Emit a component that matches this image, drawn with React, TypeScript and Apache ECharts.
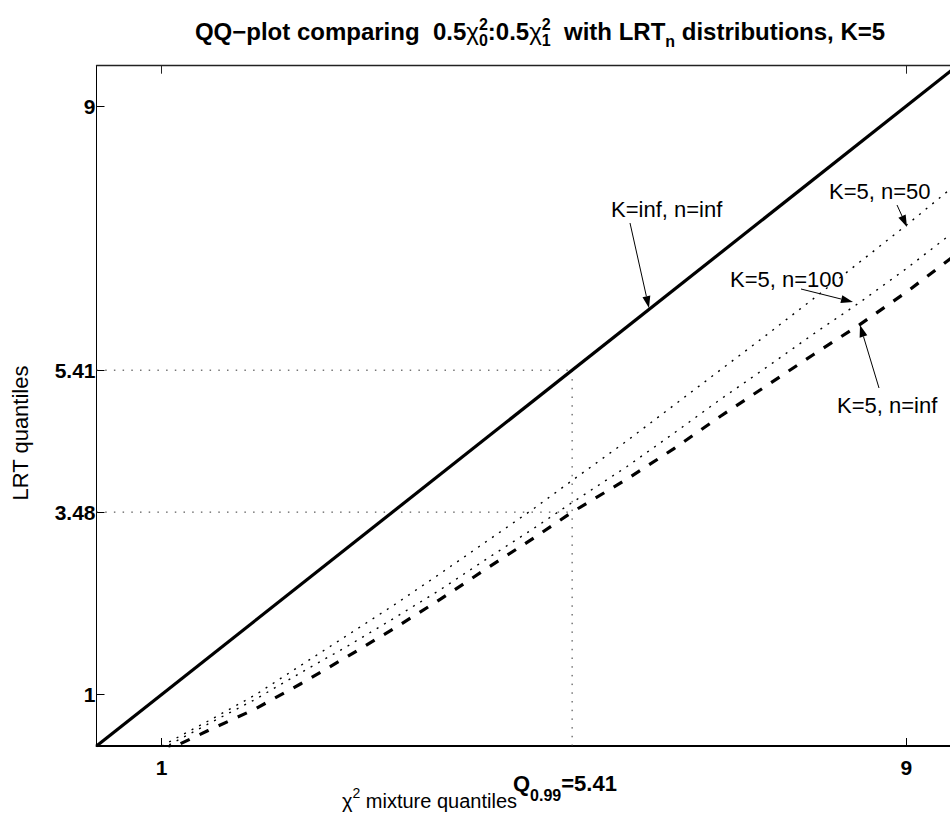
import React, { useEffect, useRef } from "react";
import * as echarts from "echarts";

// ---- data ----
const xQuantiles = [1.0, 1.5, 2.0, 2.5, 3.0, 3.5, 4.0, 4.5, 5.0, 5.41, 6.0, 6.5, 7.0, 7.5, 8.0, 8.5, 9.0, 9.5];
const lrtK5n50 = [0.30, 0.64, 0.99, 1.40, 1.81, 2.22, 2.65, 3.09, 3.53, 3.91, 4.45, 4.93, 5.41, 5.89, 6.38, 6.88, 7.38, 7.90];
const lrtK5n100 = [0.26, 0.60, 0.93, 1.30, 1.66, 2.04, 2.43, 2.85, 3.26, 3.61, 4.10, 4.55, 5.01, 5.45, 5.90, 6.33, 6.79, 7.28];
const lrtK5nInf = [0.21, 0.51, 0.80, 1.15, 1.52, 1.90, 2.30, 2.72, 3.13, 3.48, 3.93, 4.34, 4.78, 5.20, 5.62, 6.03, 6.47, 6.95];
const identityX = [0.3, 9.6];
const identityY = [0.3, 9.6];
const qMix = 5.41; // chi2 mixture 0.99 quantile
const qLrt = 3.48; // LRT (K=5, n=inf) quantile at qMix
const xRange = [0.3, 9.47];
const yRange = [0.3, 9.55];
const xTicks = [1, 9];
const yTicks = [1, 3.48, 5.41, 9];

const FONT = '"Liberation Sans", Arial, Helvetica, sans-serif';

function measure(t: string, size: number, bold: boolean) {
  const c = document.createElement("canvas").getContext("2d")!;
  c.font = `${bold ? "bold " : ""}${size}px ${FONT}`;
  return c.measureText(t).width;
}

type Piece =
  | { t: string; size: number; bold?: boolean; dy?: number }
  | { gap: number }
  | { sup: string; sub: string; size: number; bold?: boolean; supDy: number; subDy: number };

function pieceWidth(p: any) {
  if ("gap" in p) return p.gap;
  if ("sup" in p) return Math.max(measure(p.sup, p.size, !!p.bold), measure(p.sub, p.size, !!p.bold));
  return measure(p.t, p.size, !!p.bold);
}

function textEl(t: string, x: number, baseline: number, size: number, bold: boolean, extra: any = {}) {
  return {
    type: "text",
    x,
    y: baseline - 0.35 * size,
    silent: true,
    style: {
      text: t,
      fill: "#000",
      fontSize: size,
      fontWeight: bold ? "bold" : "normal",
      fontFamily: FONT,
      align: "left",
      verticalAlign: "middle",
      ...extra,
    },
  };
}

function layout(pieces: Piece[], x0: number, baseline: number, anchor: "left" | "center") {
  const total = pieces.reduce((s, p) => s + pieceWidth(p), 0);
  let x = anchor === "center" ? x0 - total / 2 : x0;
  const els: any[] = [];
  for (const p of pieces as any[]) {
    if ("gap" in p) {
      x += p.gap;
    } else if ("sup" in p) {
      els.push(textEl(p.sup, x, baseline + p.supDy, p.size, !!p.bold));
      els.push(textEl(p.sub, x, baseline + p.subDy, p.size, !!p.bold));
      x += pieceWidth(p);
    } else {
      els.push(textEl(p.t, x, baseline + (p.dy || 0), p.size, !!p.bold));
      x += pieceWidth(p);
    }
  }
  return els;
}

function arrow(x1: number, y1: number, x2: number, y2: number) {
  const dx = x2 - x1, dy = y2 - y1;
  const L = Math.hypot(dx, dy);
  const ux = dx / L, uy = dy / L;
  const hl = 12, hw = 4;
  const bx = x2 - ux * hl, by = y2 - uy * hl;
  return [
    { type: "line", silent: true, shape: { x1, y1, x2: bx, y2: by }, style: { stroke: "#000", lineWidth: 1 } },
    {
      type: "polygon",
      silent: true,
      shape: { points: [[x2, y2], [bx - uy * hw, by + ux * hw], [bx + uy * hw, by - ux * hw]] },
      style: { fill: "#000" },
    },
  ];
}

export default function App() {
  const ref = useRef<HTMLDivElement>(null);
  useEffect(() => {
    const el = ref.current!;
    const chart = echarts.init(el, null, { renderer: "svg" });

    const T = 24;
    const ts = 16;
    const spaceT = measure("a a", T, true) - measure("aa", T, true);

    const title = layout(
      [
        { t: "QQ\u2212plot comparing", size: T, bold: true },
        { gap: spaceT * 2 },
        { t: "0.5", size: T, bold: true },
        { t: "\u03c7", size: T, bold: false },
        { sup: "2", sub: "0", size: ts, bold: true, supDy: -10, subDy: 6 },
        { t: ":0.5", size: T, bold: true },
        { t: "\u03c7", size: T, bold: false },
        { sup: "2", sub: "1", size: ts, bold: true, supDy: -10, subDy: 6 },
        { gap: spaceT * 2 },
        { t: "with LRT", size: T, bold: true },
        { t: "n", size: ts, bold: true, dy: 7 },
        { gap: spaceT },
        { t: "distributions, K=5", size: T, bold: true },
      ],
      540,
      40,
      "center"
    );

    const L = 22;
    const XL = 20;
    const spaceL = measure("a a", XL, false) - measure("aa", XL, false);
    const xLabel = layout(
      [
        { t: "\u03c7", size: XL },
        { t: "2", size: 14, dy: -10 },
        { gap: spaceL },
        { t: "mixture quantiles", size: XL },
      ],
      342,
      808,
      "left"
    );

    const qLabel = layout(
      [
        { t: "Q", size: L, bold: true },
        { t: "0.99", size: 16, bold: true, dy: 10 },
        { t: "=5.41", size: L, bold: true },
      ],
      513,
      791,
      "left"
    );

    const yLabel = {
      type: "text",
      x: 20,
      y: 433,
      rotation: Math.PI / 2,
      silent: true,
      style: {
        text: "LRT quantiles",
        fill: "#000",
        fontSize: L,
        fontFamily: FONT,
        align: "center",
        verticalAlign: "middle",
      },
    };

    const notes = [
      textEl("K=inf, n=inf", 611, 217, L, false),
      textEl("K=5, n=50", 829, 199, L, false),
      textEl("K=5, n=100", 730, 287, L, false),
      textEl("K=5, n=inf", 837, 413, L, false),
      ...arrow(630, 223, 649, 308),
      ...arrow(897, 205, 907, 227),
      ...arrow(801, 289, 853, 302),
      ...arrow(879, 388, 860, 325),
    ];

    const pairs = (xs: number[], ys: number[]) => xs.map((x, i) => [x, ys[i]]);
    const refStyle = { color: "#333", width: 1, type: [1.5, 7.2] as any };

    const option: any = {
      animation: false,
      backgroundColor: "#fff",
      grid: { left: 96.5, top: 65.7, right: 0, bottom: 70, containLabel: false },
      xAxis: [
        {
          type: "value",
          min: xRange[0],
          max: xRange[1],
          position: "bottom",
          axisLine: { show: true, onZero: false, lineStyle: { color: "#000", width: 2 } },
          axisTick: { show: true, inside: true, length: 8, customValues: xTicks, lineStyle: { color: "#000" } },
          axisLabel: {
            show: true,
            customValues: xTicks,
            margin: 11,
            color: "#000",
            fontSize: 21,
            fontWeight: "bold",
            fontFamily: FONT,
            formatter: (v: number) => String(v),
          },
          splitLine: { show: false },
        },
        {
          type: "value",
          min: xRange[0],
          max: xRange[1],
          position: "top",
          axisLine: { show: true, onZero: false, lineStyle: { color: "#222", width: 1.3 } },
          axisTick: { show: true, inside: true, length: 8, customValues: xTicks, lineStyle: { color: "#222" } },
          axisLabel: { show: false },
          splitLine: { show: false },
        },
      ],
      yAxis: {
        type: "value",
        min: yRange[0],
        max: yRange[1],
        axisLine: { show: true, onZero: false, lineStyle: { color: "#000", width: 1 } },
        axisTick: { show: true, inside: true, length: 8, customValues: yTicks, lineStyle: { color: "#000" } },
        axisLabel: {
          show: true,
          customValues: yTicks,
          margin: 1,
          color: "#000",
          fontSize: 21,
          fontWeight: "bold",
          fontFamily: FONT,
          formatter: (v: number) => String(v),
        },
        splitLine: { show: false },
      },
      series: [
        {
          type: "line",
          name: "ref h1",
          data: [[xRange[0], qMix], [qMix, qMix]],
          symbol: "none",
          silent: true,
          lineStyle: refStyle,
        },
        {
          type: "line",
          name: "ref h2",
          data: [[xRange[0], qLrt], [qMix, qLrt]],
          symbol: "none",
          silent: true,
          lineStyle: refStyle,
        },
        {
          type: "line",
          name: "ref v",
          data: [[qMix, yRange[0]], [qMix, qMix]],
          symbol: "none",
          silent: true,
          lineStyle: refStyle,
        },
        {
          type: "line",
          name: "K=5, n=50",
          data: pairs(xQuantiles, lrtK5n50),
          symbol: "none",
          silent: true,
          lineStyle: { color: "#000", width: 1.4, type: [2, 6.5] },
        },
        {
          type: "line",
          name: "K=5, n=100",
          data: pairs(xQuantiles, lrtK5n100),
          symbol: "none",
          silent: true,
          lineStyle: { color: "#000", width: 1.4, type: [2, 6.5] },
        },
        {
          type: "line",
          name: "K=5, n=inf",
          data: pairs(xQuantiles, lrtK5nInf),
          symbol: "none",
          silent: true,
          lineStyle: { color: "#000", width: 3.2, type: [10, 11] },
        },
        {
          type: "line",
          name: "K=inf, n=inf",
          data: pairs(identityX, identityY),
          symbol: "none",
          silent: true,
          lineStyle: { color: "#000", width: 3.2, type: "solid" },
        },
      ],
      graphic: [...title, ...xLabel, ...qLabel, yLabel, ...notes],
    };
    chart.setOption(option);
    return () => chart.dispose();
  }, []);
  return (
    <div
      ref={ref}
      style={{ position: "fixed", left: 0, top: 0, width: 950, height: 816, background: "#fff" }}
    />
  );
}
